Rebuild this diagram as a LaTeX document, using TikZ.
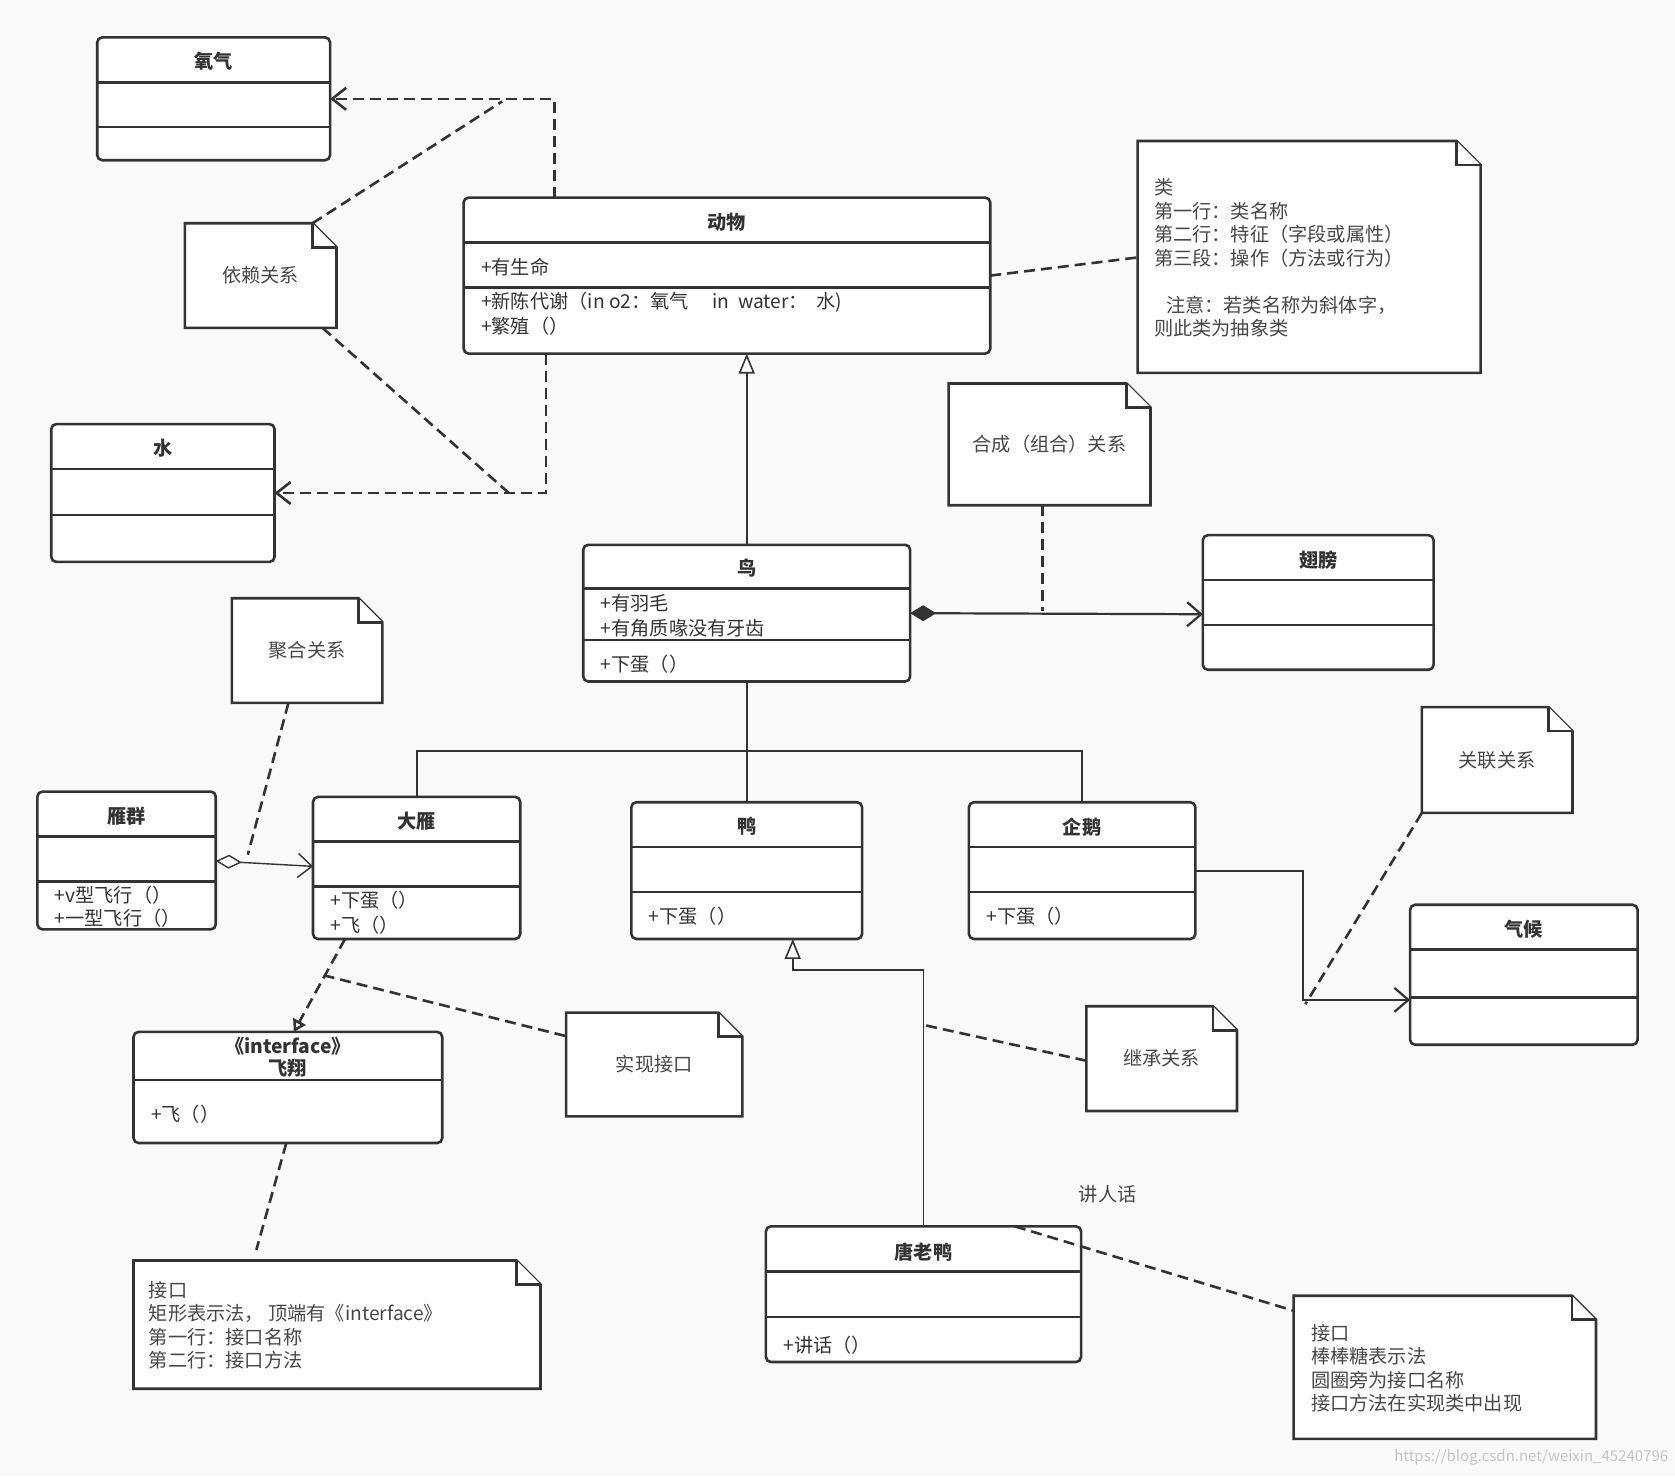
\documentclass[tikz,border=0pt]{standalone}
\usepackage{fontspec}
\setmainfont{Noto Sans CJK SC}
\usetikzlibrary{arrows.meta,fit}

\definecolor{ink}{HTML}{333333}
\definecolor{paper}{HTML}{F9F9F9}
\definecolor{wmark}{HTML}{C4C4C4}

% folded corner of a note
\newcommand{\fold}{12pt}
\newcommand{\drawnote}[1]{%
  \filldraw[notebox] (#1.north west) -- ([xshift=-\fold]#1.north east) -- ([yshift=-\fold]#1.north east) -- (#1.south east) -- (#1.south west) -- cycle;
  \draw[notebox] ([xshift=-\fold]#1.north east) |- ([yshift=-\fold]#1.north east);}
% the two compartment lines of a class
\newcommand{\splits}[3]{%
  \draw[cline] (#1.west |- 0,#2) -- (#1.east |- 0,#2);
  \draw[cline] (#1.west |- 0,#3) -- (#1.east |- 0,#3);}

\begin{document}
\begin{tikzpicture}[x=0.5341pt, y=-0.5341pt,
    every node/.style={font=\fontsize{9.6}{11.75}\selectfont, text=ink},
    cls/.style={draw=ink, fill=white, line width=1.3pt, rounded corners=2.5pt, inner sep=0pt, outer sep=0pt},
    cline/.style={draw=ink, line width=1.3pt},
    ctitle/.style={font=\fontsize{9.6}{11}\selectfont\bfseries, inner sep=0pt, align=center},
    citem/.style={anchor=west, inner sep=0pt},
    notebox/.style={draw=ink, fill=white, line width=1.3pt},
    nfit/.style={inner sep=0pt, outer sep=0pt},
    ntext/.style={inner sep=0pt, text=ink!90},
    dep/.style={ink, line width=1.3pt, dash pattern=on 5.5pt off 3pt, -{Straight Barb[length=7pt,width=11pt]}},
    link/.style={ink, line width=1.3pt, dash pattern=on 5.5pt off 3pt},
    real/.style={ink, line width=1.3pt, dash pattern=on 5.5pt off 3pt, -{Triangle[open,length=6pt,width=7pt,fill=white]}},
    gen/.style={ink, line width=0.8pt, -{Triangle[open,length=10pt,width=8pt,fill=white]}},
    tree/.style={ink, line width=1.1pt},
    assoc/.style={ink, line width=1.1pt, -{Straight Barb[length=7pt,width=12pt]}},
    comp/.style={ink, line width=1.1pt, {Diamond[length=13pt,width=8pt]}-{Straight Barb[length=7pt,width=12pt]}},
    aggr/.style={ink, line width=0.7pt, {Diamond[open,length=13pt,width=7pt,fill=white]}-{Straight Barb[length=7pt,width=12pt]}}]

\useasboundingbox[fill=paper] (0,0) rectangle (1568,1382);

% classes
\node[cls, fit={(91,35) (309,150)}] (oxy) {};
\splits{oxy}{77}{119}
\node[ctitle] (oxyT) at (oxy.north |- 0,57) {氧气};

\node[cls, fit={(48,397) (257,526)}] (water) {};
\splits{water}{439}{482}
\node[ctitle] (waterT) at (water.north |- 0,420) {水};

\node[cls, fit={(434,185) (927,331)}] (animal) {};
\splits{animal}{227}{269}
\node[ctitle] (animalT) at (animal.north |- 0,208) {动物};
\node[citem] (animalA) at (450,250) {+有生命};
\node[citem] (animalM1) at (450,283) {+新陈代谢（in o2：氧气\quad\ in\ \ water：\ \ 水)};
\node[citem] (animalM2) at (450,305) {+繁殖（）};

\node[cls, fit={(546,510) (852,638)}] (bird) {};
\splits{bird}{551}{599}
\node[ctitle] (birdT) at (bird.north |- 0,532) {鸟};
\node[citem] (birdA1) at (562,565) {+有羽毛};
\node[citem] (birdA2) at (562,588) {+有角质喙没有牙齿};
\node[citem] (birdM) at (562,622) {+下蛋（）};

\node[cls, fit={(1126,501) (1342,627)}] (wing) {};
\splits{wing}{543}{585}
\node[ctitle] (wingT) at (wing.north |- 0,524) {翅膀};

\node[cls, fit={(35,741) (202,870)}] (flock) {};
\splits{flock}{783}{825}
\node[ctitle] (flockT) at (flock.north |- 0,764) {雁群};
\node[citem] (flockM1) at (51,838) {+v型飞行（）};
\node[citem] (flockM2) at (51,860) {+一型飞行（）};

\node[cls, fit={(293,746) (487,879)}] (goose) {};
\splits{goose}{788}{830}
\node[ctitle] (gooseT) at (goose.north |- 0,769) {大雁};
\node[citem] (gooseM1) at (309,843) {+下蛋（）};
\node[citem] (gooseM2) at (309,866) {+飞（）};

\node[cls, fit={(591,751) (807,879)}] (duck) {};
\splits{duck}{793}{835}
\node[ctitle] (duckT) at (duck.north |- 0,774) {鸭};
\node[citem] (duckM) at (607,858) {+下蛋（）};

\node[cls, fit={(907,751) (1119,879)}] (penguin) {};
\splits{penguin}{793}{835}
\node[ctitle] (penguinT) at (penguin.north |- 0,774) {企鹅};
\node[citem] (penguinM) at (923,858) {+下蛋（）};

\node[cls, fit={(1320,847) (1533,978)}] (climate) {};
\splits{climate}{889}{934}
\node[ctitle] (climateT) at (climate.north |- 0,870) {气候};

\node[cls, fit={(125,966) (414,1070)}] (fly) {};
\node[ctitle] (flyT) at (fly.north |- 0,990) {《interface》\\飞翔};
\draw[cline] (fly.west |- 0,1011) -- (fly.east |- 0,1011);
\node[citem] (flyM) at (141,1043) {+飞（）};

\node[cls, fit={(717,1148) (1012,1275)}] (tduck) {};
\splits{tduck}{1190}{1233}
\node[ctitle] (tduckT) at (tduck.north |- 0,1172) {唐老鸭};
\node[citem] (tduckM) at (733,1259) {+讲话（）};

% notes
\node[nfit, fit={(173,209) (315,307)}] (depnote) {};
\drawnote{depnote}
\node[ntext] (depT) at (depnote.center) {依赖关系};

\node[nfit, fit={(1065,132) (1386,349)}] (clsnote) {};
\drawnote{clsnote}
\node[ntext, anchor=north west, align=left] (clsT) at (1080,167)
  {类\\第一行：类名称\\第二行：特征（字段或属性）\\第三段：操作（方法或行为）\\~\\\hspace{6pt}注意：若类名称为斜体字，\\则此类为抽象类};

\node[nfit, fit={(888,359) (1077,473)}] (compnote) {};
\drawnote{compnote}
\node[ntext] (compT) at (compnote.center) {合成（组合）关系};

\node[nfit, fit={(217,560) (358,658)}] (aggnote) {};
\drawnote{aggnote}
\node[ntext] (aggT) at (aggnote.center) {聚合关系};

\node[nfit, fit={(1331,662) (1472,761)}] (assocnote) {};
\drawnote{assocnote}
\node[ntext] (assocT) at (assocnote.center) {关联关系};

\node[nfit, fit={(530,948) (695,1045)}] (implnote) {};
\drawnote{implnote}
\node[ntext] (implT) at (implnote.center) {实现接口};

\node[nfit, fit={(1017,942) (1158,1040)}] (inhnote) {};
\drawnote{inhnote}
\node[ntext] (inhT) at (inhnote.center) {继承关系};

\node[nfit, fit={(125,1180) (506,1300)}] (ifnote) {};
\drawnote{ifnote}
\node[ntext, anchor=north west, align=left] (ifT) at (139,1199)
  {接口\\矩形表示法，\ 顶端有《interface》\\第一行：接口名称\\第二行：接口方法};

\node[nfit, fit={(1211,1213) (1494,1347)}] (lolnote) {};
\drawnote{lolnote}
\node[ntext, anchor=north west, align=left] (lolT) at (1227,1239)
  {接口\\棒棒糖表示法\\圆圈旁为接口名称\\接口方法在实现类中出现};

\node[ntext] (speak) at (1037,1118) {讲人话};
\node[inner sep=0pt, anchor=east, text=wmark, font=\fontsize{7.5}{9}\selectfont] (wm) at (1562,1364) {https://blog.csdn.net/weixin\_45240796};

% free ends of the note links
\coordinate (depA) at (470,95);
\coordinate (depB) at (478,463);
\coordinate (compP) at (976,572);
\coordinate (aggP) at (232,800);
\coordinate (assocP) at (1222,940);
\coordinate (implP) at (303,913);
\coordinate (ifP) at (240,1170);
\coordinate (inhP) at (867,960);
\coordinate (lolP) at (950,1148);
\coordinate (bend) at (1220,936);

% relations
\draw[dep] (animal.north -| 519,0) |- (oxy.east);
\draw[dep] (animal.south -| 511,0) |- (water.east);
\draw[gen] (bird.north) -- (bird.north |- animal.south);
\draw[tree] (bird.south) -- (bird.south |- 0,703) -| (goose.north);
\draw[tree] (bird.south |- 0,703) -- (duck.north);
\draw[tree] (bird.south |- 0,703) -| (penguin.north);
\draw[comp] (bird.east |- 0,574) -- (wing.west |- 0,575);
\draw[aggr] (flock.east |- 0,806) -- (goose.west |- 0,811);
\draw[assoc] (penguin.east) -| (bend) -- (climate.west |- bend);
\draw[real] (goose.south -| 323,0) -- (fly.north -| 275,0);
\draw[gen] (tduck.north) |- ([xshift=23pt,yshift=-15.5pt]duck.south) -- ([xshift=23pt]duck.south);

% note links
\draw[link] ([xshift=-\fold]depnote.north east) -- (depA);
\draw[link] (depnote.south -| 302,0) -- (depB);
\draw[link] (animal.east |- 0,258) -- (clsnote.west |- 0,241);
\draw[link] (compnote.south -| compP) -- (compP);
\draw[link] (aggnote.south -| 270,0) -- (aggP);
\draw[link] (assocnote.south west) -- (assocP);
\draw[link] (implP) -- (implnote.west |- 0,970);
\draw[link] (fly.south -| 268,0) -- (ifP);
\draw[link] (inhP) -- (inhnote.west |- 0,993);
\draw[link] (lolP) -- (lolnote.west |- 0,1227);
\end{tikzpicture}
\end{document}
